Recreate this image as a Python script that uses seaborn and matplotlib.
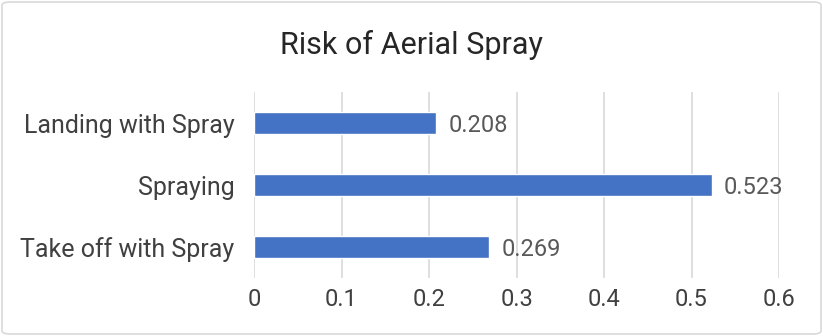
import matplotlib
matplotlib.use("Agg")
import matplotlib.pyplot as plt
import seaborn as sns
import pandas as pd
from matplotlib.patches import FancyBboxPatch

categories = ["Landing with Spray", "Spraying", "Take off with Spray"]
values = [0.208, 0.523, 0.269]
xticks = [0, 0.1, 0.2, 0.3, 0.4, 0.5, 0.6]
xticklabels = ["0", "0.1", "0.2", "0.3", "0.4", "0.5", "0.6"]
title = "Risk of Aerial Spray"

sns.set_theme(style="white")
plt.rcParams['font.family'] = ['Roboto', 'DejaVu Sans']

df = pd.DataFrame({"category": categories, "value": values})

fig = plt.figure(figsize=(8.23, 3.36), dpi=100)
ax = fig.add_axes([254/823, 1-278/336, (779-254)/823, (278-92)/336])
sns.barplot(data=df, y="category", x="value", orient="h", color="#4472C4",
            width=0.34, saturation=1, ax=ax, zorder=3)

ax.set_xlim(0, 0.6)
ax.set_xticks(xticks)
ax.set_xticklabels(xticklabels, fontsize=17, color="#404040")
ax.tick_params(axis="y", labelsize=18, labelcolor="#404040", length=0, pad=14)
ax.tick_params(axis="x", length=0, pad=7)
ax.grid(axis="x", color="#D9D9D9", linewidth=1.2, zorder=0)
ax.set_xlabel("")
ax.set_ylabel("")
for s in ax.spines.values():
    s.set_visible(False)

for i, v in enumerate(values):
    ax.text(v + 0.014, i + 0.04, f"{v:.3f}", va="center", ha="left",
            fontsize=17, color="#595959")

fig.text(0.5, 1-45/336, title, ha="center", va="center", fontsize=22, color="#262626")

border = FancyBboxPatch((2/823, 2/336), 819/823, 332/336,
                        boxstyle="round,pad=0,rounding_size=0.01",
                        transform=fig.transFigure, fill=False,
                        edgecolor="#D9D9D9", linewidth=1.2)
fig.patches.append(border)

fig.savefig("out.png", dpi=100)
